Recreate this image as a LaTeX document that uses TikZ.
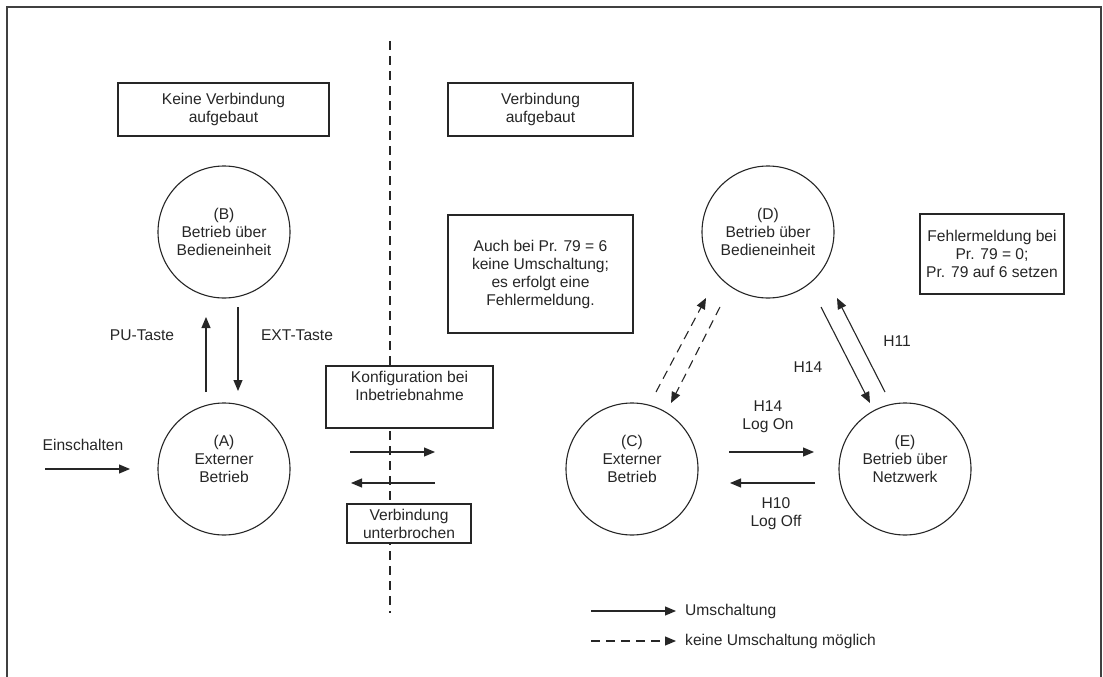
\documentclass[tikz,border=0pt]{standalone}
\usepackage{fontspec}
\setmainfont{Liberation Sans}
\usetikzlibrary{arrows.meta}
\begin{document}
\begin{tikzpicture}[x=1pt,y=-1pt,
  every node/.style={font=\fontsize{15.6}{18}\selectfont, text=black!85},
  state/.style={circle, draw=black!85, line width=1.1pt, minimum size=132pt, inner sep=0pt, align=center},
  infobox/.style={rectangle, draw=black!85, line width=1.1pt, fill=white, inner sep=0pt, align=center},
  arr/.style={line width=1.1pt, draw=black!85, -{Triangle[length=11pt,width=9pt]}},
  darr/.style={arr, dash pattern=on 9pt off 6pt},
  lbl/.style={inner sep=0pt, align=center}]
\useasboundingbox (0,0) rectangle (1103,677);
% frame
\draw[line width=1.8pt, black!75] (7,680) -- (7,7) -- (1101,7) -- (1101,680);
% divider
\draw[line width=1.1pt, black!85, dash pattern=on 9pt off 6pt] (390,41) -- (390,613);
% boxes
\node[infobox, minimum width=211pt, minimum height=53pt] (kv) at (223.5,109.5) {Keine Verbindung\\aufgebaut};
\node[infobox, minimum width=185pt, minimum height=53pt] (va) at (540.5,109.5) {Verbindung\\aufgebaut};
\node[infobox, minimum width=185pt, minimum height=118pt] (auch) at (540.5,274) {Auch bei Pr. 79 = 6\\keine Umschaltung;\\es erfolgt eine\\Fehlermeldung.};
\node[infobox, minimum width=144pt, minimum height=80pt] (fehl) at (992,254) {Fehlermeldung bei\\Pr. 79 = 0;\\Pr. 79 auf 6 setzen};
\node[infobox, minimum width=167pt, minimum height=62pt] (konf) at (409.5,397) {Konfiguration bei\\Inbetriebnahme\\[4pt]};
\node[infobox, minimum width=124pt, minimum height=39pt] (vu) at (409,523.5) {Verbindung\\unterbrochen};
% states
\node[state] (B) at (224,232) {(B)\\Betrieb über\\Bedieneinheit};
\node[state] (A) at (224,469) {(A)\\Externer\\Betrieb\\[3pt]};
\node[state] (D) at (768,232) {(D)\\Betrieb über\\Bedieneinheit};
\node[state] (C) at (632,469) {(C)\\Externer\\Betrieb\\[3pt]};
\node[state] (E) at (905,469) {(E)\\Betrieb über\\Netzwerk\\[3pt]};
% coordinates of arrow ends
\coordinate (pu0) at (206,392); \coordinate (pu1) at (206,317);
\coordinate (ex0) at (238,307); \coordinate (ex1) at (238,391);
\coordinate (ein0) at (45,469); \coordinate (ein1) at (130,469);
\coordinate (kr0) at (350,452); \coordinate (kr1) at (435,452);
\coordinate (kl0) at (435,483); \coordinate (kl1) at (351,483);
\coordinate (cd0) at (656,392); \coordinate (cd1) at (706,298);
\coordinate (dc0) at (720,307); \coordinate (dc1) at (671,403);
\coordinate (de0) at (821,307); \coordinate (de1) at (870,403);
\coordinate (ed0) at (885,392); \coordinate (ed1) at (837,298);
\coordinate (ce0) at (729,452); \coordinate (ce1) at (814,452);
\coordinate (ec0) at (815,483); \coordinate (ec1) at (730,483);
\coordinate (l10) at (591,611); \coordinate (l11) at (676,611);
\coordinate (l20) at (591,641); \coordinate (l21) at (676,641);
% connectors
\draw[arr] (pu0) -- (pu1);
\draw[arr] (ex0) -- (ex1);
\draw[arr] (ein0) -- (ein1);
\draw[arr] (kr0) -- (kr1);
\draw[arr] (kl0) -- (kl1);
\draw[darr] (cd0) -- (cd1);
\draw[darr] (dc0) -- (dc1);
\draw[arr] (de0) -- (de1);
\draw[arr] (ed0) -- (ed1);
\draw[arr] (ce0) -- (ce1);
\draw[arr] (ec0) -- (ec1);
\draw[arr] (l10) -- (l11);
\draw[darr] (l20) -- (l21);
% labels
\node[lbl] (lpu) at (142,335) {PU-Taste};
\node[lbl] (lext) at (297,335) {EXT-Taste};
\node[lbl] (lein) at (83,445) {Einschalten};
\node[lbl] (lh14a) at (808,367) {H14};
\node[lbl] (lh11) at (897,341) {H11};
\node[lbl] (lon) at (768,417) {H14\\Log On};
\node[lbl] (loff) at (776,514) {H10\\Log Off};
\node[lbl, anchor=west] (lg1) at (685,611) {Umschaltung};
\node[lbl, anchor=west] (lg2) at (685,641) {keine Umschaltung möglich};
\end{tikzpicture}
\end{document}
